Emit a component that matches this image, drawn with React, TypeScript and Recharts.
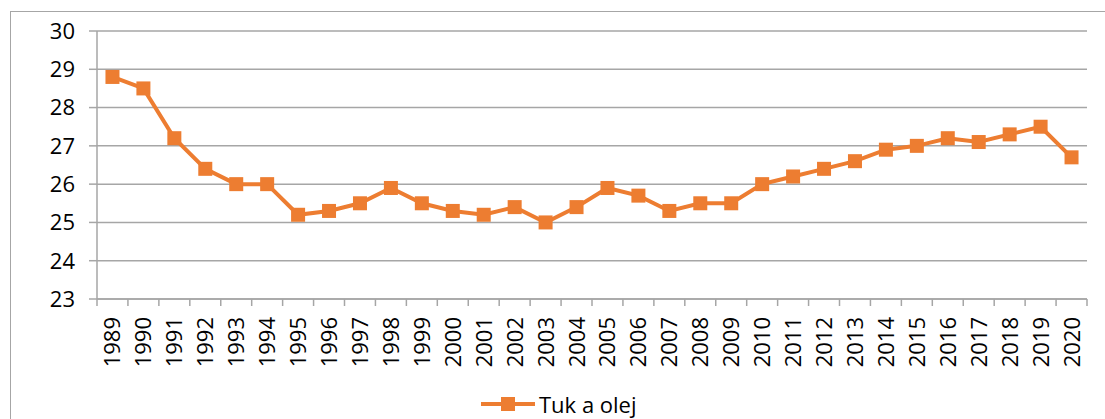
import React from 'react';
import { ComposedChart, Line, XAxis, YAxis, CartesianGrid, Legend } from 'recharts';

const years: string[] = [
  '1989', '1990', '1991', '1992', '1993', '1994', '1995', '1996', '1997', '1998', '1999',
  '2000', '2001', '2002', '2003', '2004', '2005', '2006', '2007', '2008', '2009', '2010',
  '2011', '2012', '2013', '2014', '2015', '2016', '2017', '2018', '2019', '2020',
];
const tukAOlej: number[] = [
  28.8, 28.5, 27.2, 26.4, 26.0, 26.0, 25.2, 25.3, 25.5, 25.9, 25.5,
  25.3, 25.2, 25.4, 25.0, 25.4, 25.9, 25.7, 25.3, 25.5, 25.5, 26.0,
  26.2, 26.4, 26.6, 26.9, 27.0, 27.2, 27.1, 27.3, 27.5, 26.7,
];
const yTicks: number[] = [23, 24, 25, 26, 27, 28, 29, 30];
const seriesName = 'Tuk a olej';

const data = years.map((y, i) => ({ year: y, value: tukAOlej[i] }));

const ORANGE = '#ED7D31';
const GRID = '#A6A6A6';
const FONT = '"Open Sans", sans-serif';
const X_TICK_SIZE = 7;
const X_TICK_MARGIN = 11;

const XTick = (props: any) => {
  const { x, y, payload, index, visibleTicksCount, width } = props;
  let off = payload && payload.offset ? payload.offset : 0;
  if (!off && width && visibleTicksCount) off = width / visibleTicksCount / 2;
  const axisY = y - X_TICK_SIZE - X_TICK_MARGIN;
  const tx = x + 8;
  return (
    <g>
      <line x1={x - off} y1={axisY} x2={x - off} y2={axisY + X_TICK_SIZE} stroke={GRID} strokeWidth={1.5} />
      {index === visibleTicksCount - 1 ? (
        <line x1={x + off} y1={axisY} x2={x + off} y2={axisY + X_TICK_SIZE} stroke={GRID} strokeWidth={1.5} />
      ) : null}
      <text
        x={tx}
        y={y}
        transform={`rotate(-90, ${tx}, ${y})`}
        textAnchor="end"
        fill="#000"
        fontSize={22}
        fontFamily={FONT}
      >
        {payload.value}
      </text>
    </g>
  );
};

const SquareDot = (props: any) => {
  const { cx, cy, index } = props;
  if (cx == null || cy == null) return <g key={`d${index}`} />;
  return <rect key={`d${index}`} x={cx - 7} y={cy - 7} width={14} height={14} fill={ORANGE} />;
};

const LegendContent = () => (
  <div style={{ display: 'flex', alignItems: 'center', height: 28 }}>
    <svg width={54} height={28} style={{ display: 'block' }}>
      <line x1={0} y1={14} x2={54} y2={14} stroke={ORANGE} strokeWidth={4} />
      <rect x={20} y={7} width={14} height={14} fill={ORANGE} />
    </svg>
    <span
      style={{
        marginLeft: 4,
        fontFamily: FONT,
        fontSize: 22,
        lineHeight: '28px',
        color: '#000',
        whiteSpace: 'nowrap',
      }}
    >
      {seriesName}
    </span>
  </div>
);

export default function App() {
  return (
    <div style={{ position: 'absolute', left: 0, top: 0, width: 1105, height: 419, background: '#fff' }}>
      <div
        style={{
          position: 'absolute',
          left: 10,
          top: 11,
          width: 1095,
          height: 408,
          boxSizing: 'border-box',
          borderLeft: `1px solid ${GRID}`,
          borderTop: `1px solid ${GRID}`,
        }}
      />
      <div style={{ position: 'absolute', left: 0, top: 0 }}>
        <ComposedChart
          width={1105}
          height={419}
          data={data}
          margin={{ top: 31, right: 18, bottom: 0, left: 0 }}
        >
          <CartesianGrid vertical={false} stroke={GRID} strokeWidth={1.5} />
          <XAxis
            dataKey="year"
            scale="band"
            interval={0}
            height={120}
            tickSize={X_TICK_SIZE}
            tickMargin={X_TICK_MARGIN}
            tickLine={false}
            axisLine={{ stroke: GRID, strokeWidth: 1.5 }}
            tick={<XTick />}
          />
          <YAxis
            width={97}
            domain={[23, 30]}
            ticks={yTicks}
            interval={0}
            allowDataOverflow
            tickSize={8}
            tickMargin={14}
            tickLine={{ stroke: GRID, strokeWidth: 1.5 }}
            axisLine={{ stroke: GRID, strokeWidth: 1.5 }}
            tick={{ fill: '#000', fontSize: 22, fontFamily: FONT }}
          />
          <Legend
            verticalAlign="middle"
            align="center"
            layout="horizontal"
            wrapperStyle={{ left: 481, top: 390, width: 180, height: 28 }}
            content={<LegendContent />}
          />
          <Line
            type="linear"
            dataKey="value"
            name={seriesName}
            stroke={ORANGE}
            strokeWidth={4}
            dot={<SquareDot />}
            activeDot={false}
            isAnimationActive={false}
          />
        </ComposedChart>
      </div>
    </div>
  );
}
